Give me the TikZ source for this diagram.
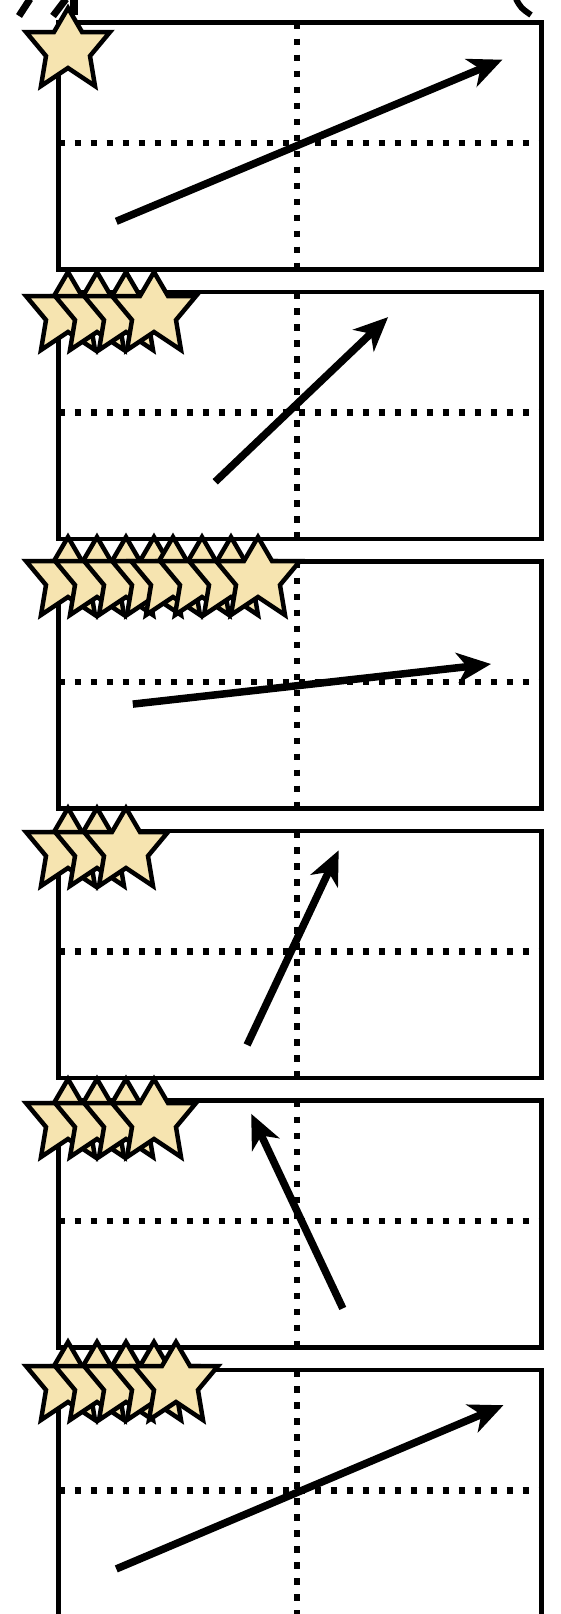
\documentclass[tikz,border=0pt]{standalone}
\usepackage{tikz}
\usetikzlibrary{arrows.meta}

\definecolor{starfill}{RGB}{246,228,176}

% one star, centred at (#1,#2)
\newcommand{\drawstar}[2]{%
  \draw[starline, shift={(#1,#2)}] (0,-37) -- (14,-13) -- (42,-13) -- (22,11)
    -- (27,41) -- (0,23) -- (-27,41) -- (-22,11) -- (-42,-13) -- (-14,-13) -- cycle;}

\begin{document}
\begin{tikzpicture}[x=1pt, y=-1pt,
  frame/.style={line width=4.5pt},
  grid/.style={line width=6.5pt, dash pattern=on 6.5pt off 9.5pt},
  vec/.style={line width=7.5pt, -{Stealth[length=34pt, width=30pt, inset=10pt]}},
  starline/.style={line width=4.5pt, fill=starfill, line join=miter},
  cut/.style={line width=7pt}]

  \clip (0,0) rectangle (560,1614);

  \def\xl{58.5}
  \def\xr{541.5}
  \def\xm{297}
  \def\boxh{247}

  % pieces cut off at the top
  \draw[cut] (19,16) -- (30,-1);
  \draw[cut] (53,16) -- (66,-1);
  \draw[cut, line width=8pt] (74,-1) -- (74,15);
  \draw[cut, line width=6pt] (516,-1) .. controls (521,8) .. (531,15);

  % panels
  \foreach \i in {0,...,5} {
    \pgfmathsetmacro\ytop{22.6+269.5*\i}
    \pgfmathsetmacro\ymid{\ytop+120.5}
    \draw[frame, fill=white] (\xl,\ytop) rectangle (\xr,\ytop+\boxh);
    \draw[grid] (\xl,\ymid) -- (\xr,\ymid);
    \draw[grid] (\xm,\ytop) -- (\xm,\ytop+\boxh);
  }

  % vectors
  \coordinate (v1a) at (116.3,221.3);  \coordinate (v1b) at (502.4,59.7);
  \coordinate (v2a) at (215.2,481.8);  \coordinate (v2b) at (388.1,317.1);
  \coordinate (v3a) at (132.8,704.1);  \coordinate (v3b) at (491.0,664.0);
  \coordinate (v4a) at (247.1,1044.9); \coordinate (v4b) at (338.7,850.3);
  \coordinate (v5a) at (342.8,1308.4); \coordinate (v5b) at (251.2,1113.8);
  \coordinate (v6a) at (116.3,1568.9); \coordinate (v6b) at (503.4,1405.2);

  \foreach \k in {1,...,6}
    \draw[vec] (v\k a) -- (v\k b);

  % stars
  \drawstar{68}{45}
  \foreach \sx in {68,97,126,154} \drawstar{\sx}{309};
  \foreach \sx in {68,97,126,154,173,202,231,258} \drawstar{\sx}{574};
  \foreach \sx in {68,97,126} \drawstar{\sx}{845};
  \foreach \sx in {68,97,126,154} \drawstar{\sx}{1116};
  \foreach \sx in {68,97,126,154,176} \drawstar{\sx}{1379};

\end{tikzpicture}
\end{document}
